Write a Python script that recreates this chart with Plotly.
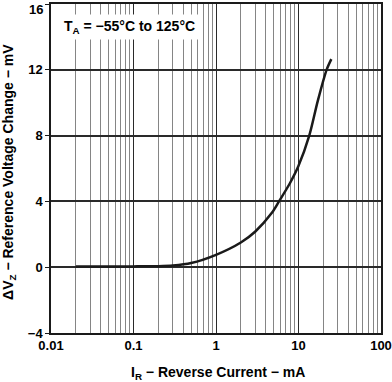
import plotly.graph_objects as go

# Data
current_mA = [0.02, 0.05, 0.1, 0.2, 0.3, 0.5, 1, 2, 3, 4.73, 5.8, 7.9, 9.95, 13.5, 17.1, 21.9, 25]
delta_vz_mV = [0.05, 0.05, 0.05, 0.06, 0.1, 0.25, 0.75, 1.5, 2.17, 3.29, 4.0, 5.12, 6.13, 8.0, 10.1, 12.0, 12.65]

x_major = [0.01, 0.1, 1, 10, 100]
x_major_text = ["0.01", "0.1", "1", "10", "100"]
x_minor = [m * d for d in [0.01, 0.1, 1, 10] for m in range(2, 10)]
y_ticks = [-4, 0, 4, 8, 12, 16]
y_tick_text = ["\u22124", "0", "4", "8", "12", ""]
y_top_label = "16"

FONT = "Liberation Sans, Arial, sans-serif"

fig = go.Figure()
fig.add_trace(go.Scatter(
    x=current_mA, y=delta_vz_mV, mode="lines",
    line=dict(color="#1a1a1a", width=2.5, shape="spline", smoothing=0.8),
    showlegend=False, hoverinfo="skip",
))

fig.update_layout(
    width=392, height=382,
    margin=dict(l=51, r=11, t=4, b=49, autoexpand=False),
    paper_bgcolor="white", plot_bgcolor="white",
    font=dict(family=FONT, size=13, color="black"),
    xaxis=dict(
        type="log", range=[-2, 2], automargin=False,
        tickvals=x_major, ticktext=x_major_text,
        showgrid=True, gridcolor="#2a2a2a", gridwidth=1,
        minor=dict(tickvals=x_minor, showgrid=True, gridcolor="#858585", gridwidth=1, ticks=""),
        ticks="", showline=True, linecolor="#1a1a1a", linewidth=1.5, mirror=True,
        tickfont=dict(family=FONT, size=13, color="black", weight="bold"),
        ticklabeloverflow="allow",
        zeroline=False,
    ),
    yaxis=dict(
        range=[-4, 16], tickvals=y_ticks, ticktext=y_tick_text, automargin=False,
        showgrid=True, gridcolor="#2a2a2a", gridwidth=1.5,
        ticks="outside", ticklen=4, tickcolor="#1a1a1a",
        showline=True, linecolor="#1a1a1a", linewidth=1.5, mirror=True,
        tickfont=dict(family=FONT, size=13, color="black", weight="bold"),
        ticklabeloverflow="allow",
        zeroline=False,
    ),
    annotations=[
        dict(
            text="<b>" + y_top_label + "</b>",
            xref="paper", yref="paper", x=0, y=1, xanchor="right", yanchor="top",
            xshift=-6, yshift=4, showarrow=False,
            font=dict(family=FONT, size=13, color="black"),
        ),
        dict(
            text="<b>T<sub>A</sub> = \u221255\u00b0C to 125\u00b0C</b>",
            xref="paper", yref="paper", x=0.028, y=0.93, xanchor="left", yanchor="middle",
            showarrow=False, bgcolor="white", borderpad=3,
            font=dict(family=FONT, size=14, color="black"),
        ),
        dict(
            text="<b>I<sub>R</sub> \u2212 Reverse Current \u2212 mA</b>",
            xref="paper", yref="paper", x=0.505, y=-0.122, xanchor="center", yanchor="middle",
            showarrow=False, font=dict(family=FONT, size=14, color="black"),
        ),
        dict(
            text="<b>\u0394V<sub>Z</sub> \u2212 Reference Voltage Change \u2212 mV</b>",
            xref="paper", yref="paper", x=-0.127, y=0.49, xanchor="center", yanchor="middle",
            textangle=-90, showarrow=False, font=dict(family=FONT, size=14, color="black"),
        ),
    ],
)

fig.write_html("out.html", config={"displayModeBar": False},
               post_script="document.body.style.margin='0';")
